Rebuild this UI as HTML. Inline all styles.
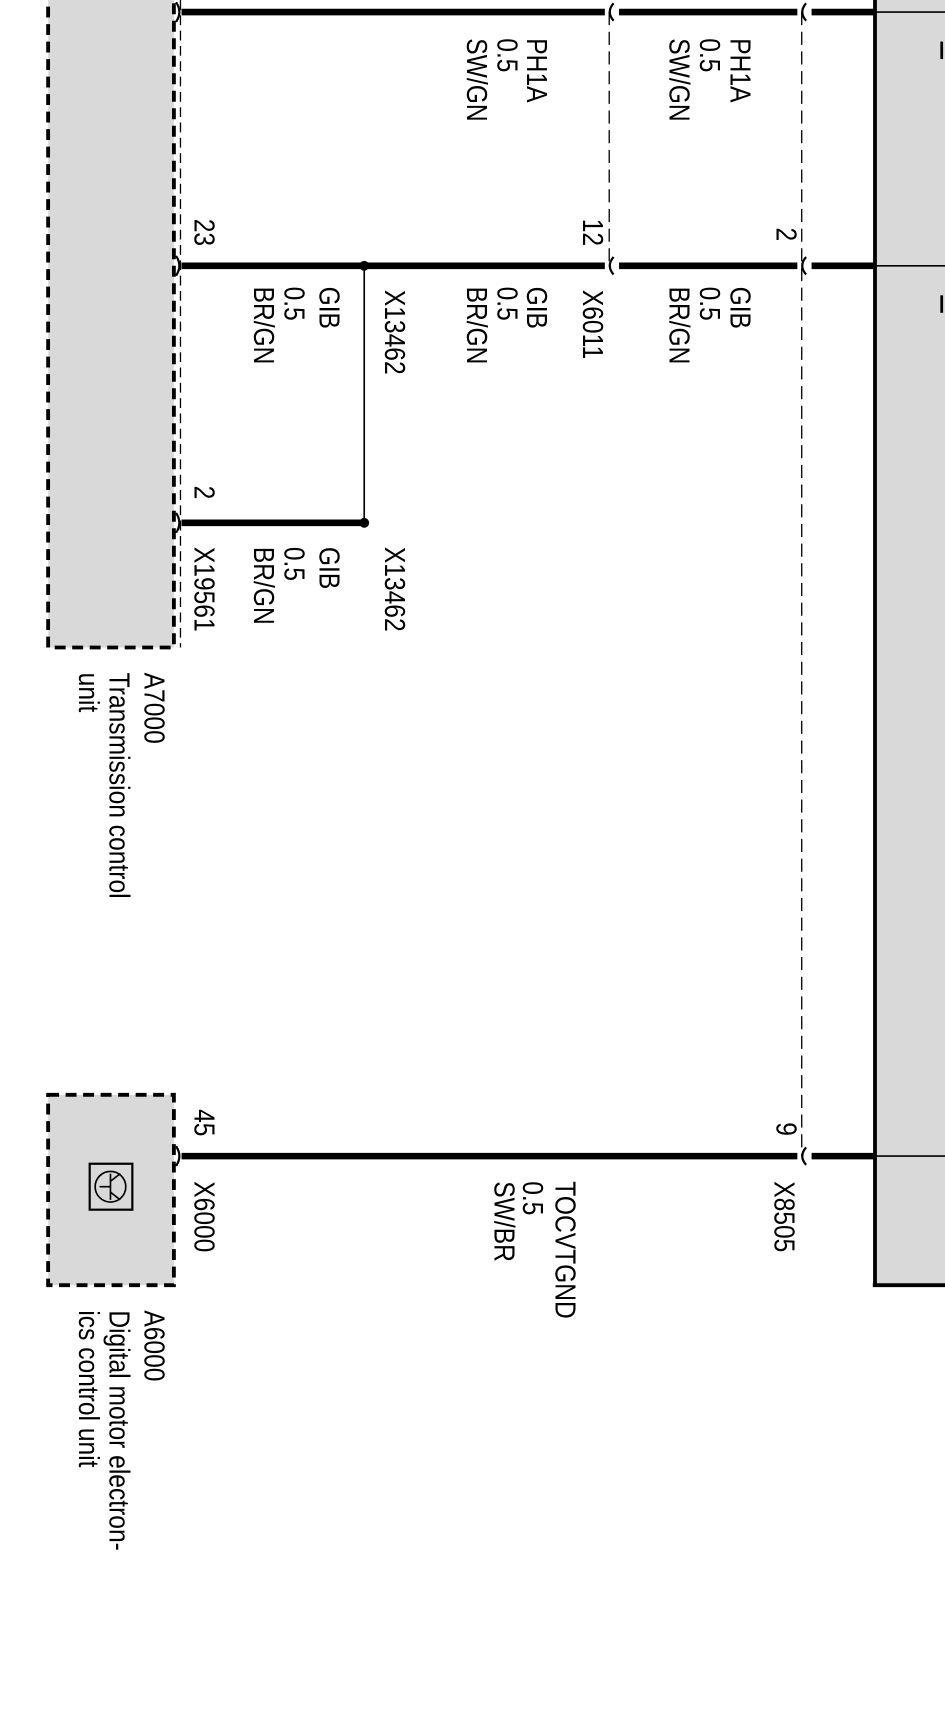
<!DOCTYPE html>
<html><head><meta charset="utf-8"><style>
html,body{margin:0;padding:0;background:#fff;}
svg{display:block;}
text{font-family:"Liberation Sans",Arial,sans-serif;font-size:22.5px;fill:#000;}
</style></head><body>
<svg width="945" height="1715" viewBox="0 0 864 1568" xmlns="http://www.w3.org/2000/svg">
<rect x="800" y="-5" width="70" height="1180" fill="#d9d9d9"/>
<line x1="800" y1="-5" x2="800" y2="1176" stroke="#000" stroke-width="3.5"/>
<line x1="798" y1="1175" x2="870" y2="1175" stroke="#000" stroke-width="3.5"/>
<line x1="800" y1="11" x2="870" y2="11" stroke="#000" stroke-width="1.5"/>
<line x1="800" y1="243" x2="870" y2="243" stroke="#000" stroke-width="1.5"/>
<line x1="800" y1="1057" x2="870" y2="1057" stroke="#000" stroke-width="1.5"/>
<line x1="861" y1="38" x2="861" y2="54" stroke="#000" stroke-width="2.5"/>
<line x1="861" y1="270" x2="861" y2="286" stroke="#000" stroke-width="2.5"/>

<rect x="44" y="-10" width="115" height="602" fill="#d9d9d9" stroke="#000" stroke-width="3.5" stroke-dasharray="10,6"/>
<line x1="165" y1="0" x2="165" y2="592" stroke="#000" stroke-width="1.2" stroke-dasharray="9,5"/>
<rect x="44" y="1001" width="115" height="174" fill="#d9d9d9" stroke="#000" stroke-width="3.5" stroke-dasharray="10,6"/>
<rect x="82" y="1064" width="39" height="42" fill="none" stroke="#000" stroke-width="2"/>
<circle cx="101" cy="1085" r="14" fill="none" stroke="#000" stroke-width="1.5"/>
<path d="M91 1085 L101 1085 M101 1073 L101 1097 M101 1080 L110 1073 M101 1090 L110 1097" stroke="#000" stroke-width="1.5" fill="none"/>

<line x1="557" y1="11" x2="557" y2="243" stroke="#000" stroke-width="1.2" stroke-dasharray="12,6"/>
<line x1="733" y1="11" x2="733" y2="1057" stroke="#000" stroke-width="1.2" stroke-dasharray="12,6"/>

<g stroke="#000" stroke-width="6" fill="none">
<line x1="166" y1="11" x2="553" y2="11"/>
<line x1="566" y1="11" x2="729" y2="11"/>
<line x1="742" y1="11" x2="800" y2="11"/>
<line x1="166" y1="243" x2="553" y2="243"/>
<line x1="566" y1="243" x2="729" y2="243"/>
<line x1="742" y1="243" x2="800" y2="243"/>
<line x1="166" y1="478" x2="333" y2="478"/>
<line x1="166" y1="1057" x2="729" y2="1057"/>
<line x1="742" y1="1057" x2="800" y2="1057"/>
</g>
<line x1="333" y1="243" x2="333" y2="478" stroke="#000" stroke-width="1.5"/>
<circle cx="333" cy="243" r="4.5"/><circle cx="333" cy="478" r="4.5"/>
<g stroke="#000" stroke-width="2" fill="none">
<path d="M161 2 Q167 11 161 20 M161 234 Q167 243 161 252 M161 469 Q167 478 161 487 M161 1048 Q167 1057 161 1066"/>
<path d="M561 3 Q554 11 561 19 M561 235 Q554 243 561 251"/>
<path d="M737 3 Q730 11 737 19 M737 235 Q730 243 737 251 M737 1049 Q730 1057 737 1065"/>
</g>

<g>
<text transform="translate(668,35) rotate(90) scale(1,1.15)">PH1A</text>
<text transform="translate(640,35) rotate(90) scale(1,1.15)">0.5</text>
<text transform="translate(612,35) rotate(90) scale(1,1.15)">SW/GN</text>
<text transform="translate(482,35) rotate(90) scale(1,1.15)">PH1A</text>
<text transform="translate(455,35) rotate(90) scale(1,1.15)">0.5</text>
<text transform="translate(427,35) rotate(90) scale(1,1.15)">SW/GN</text>

<text transform="translate(710,208) rotate(90) scale(1,1.15)">2</text>
<text transform="translate(533,200) rotate(90) scale(1,1.15)">12</text>
<text transform="translate(178,200) rotate(90) scale(1,1.15)">23</text>

<text transform="translate(668,262) rotate(90) scale(1,1.15)">GIB</text>
<text transform="translate(640,262) rotate(90) scale(1,1.15)">0.5</text>
<text transform="translate(612,262) rotate(90) scale(1,1.15)">BR/GN</text>
<text transform="translate(533,265) rotate(90) scale(1,1.15)">X6011</text>
<text transform="translate(482,262) rotate(90) scale(1,1.15)">GIB</text>
<text transform="translate(455,262) rotate(90) scale(1,1.15)">0.5</text>
<text transform="translate(427,262) rotate(90) scale(1,1.15)">BR/GN</text>
<text transform="translate(352,265) rotate(90) scale(1,1.15)">X13462</text>
<text transform="translate(292,262) rotate(90) scale(1,1.15)">GIB</text>
<text transform="translate(260,262) rotate(90) scale(1,1.15)">0.5</text>
<text transform="translate(232,262) rotate(90) scale(1,1.15)">BR/GN</text>

<text transform="translate(178,444) rotate(90) scale(1,1.15)">2</text>
<text transform="translate(352,500) rotate(90) scale(1,1.15)">X13462</text>
<text transform="translate(292,500) rotate(90) scale(1,1.15)">GIB</text>
<text transform="translate(260,500) rotate(90) scale(1,1.15)">0.5</text>
<text transform="translate(232,500) rotate(90) scale(1,1.15)">BR/GN</text>
<text transform="translate(178,500) rotate(90) scale(1,1.15)">X19561</text>

<text transform="translate(132,615) rotate(90) scale(1,1.15)">A7000</text>
<text transform="translate(100,615) rotate(90) scale(1,1.15)">Transmission control</text>
<text transform="translate(72,615) rotate(90) scale(1,1.15)">unit</text>

<text transform="translate(710,1026) rotate(90) scale(1,1.15)">9</text>
<text transform="translate(178,1014) rotate(90) scale(1,1.15)">45</text>
<text transform="translate(708,1080) rotate(90) scale(1,1.15)">X8505</text>
<text transform="translate(508,1080) rotate(90) scale(1,1.15)">TOCVTGND</text>
<text transform="translate(478,1080) rotate(90) scale(1,1.15)">0.5</text>
<text transform="translate(452,1080) rotate(90) scale(1,1.15)">SW/BR</text>
<text transform="translate(178,1080) rotate(90) scale(1,1.15)">X6000</text>

<text transform="translate(132,1198) rotate(90) scale(1,1.15)">A6000</text>
<text transform="translate(100,1198) rotate(90) scale(1,1.15)">Digital motor electron-</text>
<text transform="translate(72,1198) rotate(90) scale(1,1.15)">ics control unit</text>
</g>
</svg>
</body></html>
